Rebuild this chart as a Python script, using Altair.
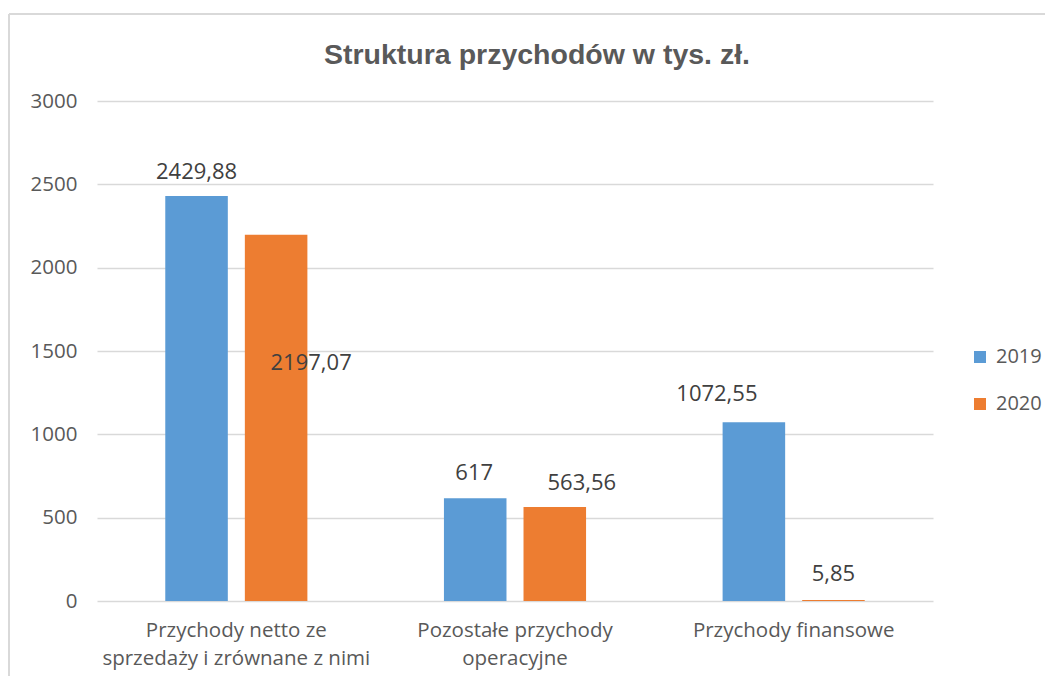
import altair as alt
import pandas as pd

categories = [
    "Przychody netto ze sprzedaży i zrównane z nimi",
    "Pozostałe przychody operacyjne",
    "Przychody finansowe",
]
years = ["2019", "2020"]
values_2019 = [2429.88, 617, 1072.55]
values_2020 = [2197.07, 563.56, 5.85]
title_text = "Struktura przychodów w tys. zł."

label_lines = [
    ["Przychody netto ze", "sprzedaży i zrównane z nimi"],
    ["Pozostałe przychody", "operacyjne"],
    ["Przychody finansowe"],
]

# data-label offsets (dx, dy) in pixels, as placed in the original
label_offsets = {
    (0, "2019"): (0, -24), (0, "2020"): (35, 128),
    (1, "2019"): (-1, -25), (1, "2020"): (27, -24),
    (2, "2019"): (-37, -28), (2, "2020"): (0, -26),
}

rows = []
for i, c in enumerate(categories):
    for y, vals in zip(years, [values_2019, values_2020]):
        v = vals[i]
        rows.append({"cat": c, "idx": i, "year": y, "value": v,
                     "label": "{:g}".format(v).replace(".", ",")})
df = pd.DataFrame(rows)

def js_list(lines):
    return "[" + ",".join("'" + s + "'" for s in lines) + "]"

expr = "datum.label"
for c, lines in reversed(list(zip(categories, label_lines))):
    expr = f"datum.label == '{c}' ? {js_list(lines)} : ({expr})"

FONT = "Open Sans"
AX = "#595959"

x_enc = alt.X("cat:N", sort=categories, title=None,
              scale=alt.Scale(paddingInner=0.49, paddingOuter=0.245),
              axis=alt.Axis(labelExpr=expr, labelAngle=0, ticks=False, domain=False,
                            labelFont=FONT, labelFontSize=20.5, labelColor=AX,
                            labelPadding=19, labelLineHeight=28, labelLimit=400))
xo_enc = alt.XOffset("year:N", sort=years,
                     scale=alt.Scale(paddingInner=0.214, paddingOuter=0))
y_enc = alt.Y("value:Q", title=None,
              scale=alt.Scale(domain=[0, 3000], nice=False),
              axis=alt.Axis(values=[0, 500, 1000, 1500, 2000, 2500, 3000],
                            format="d", ticks=False, domain=False, labelFont=FONT,
                            labelFontSize=20.5, labelColor=AX, labelPadding=20,
                            gridColor="#d9d9d9", gridWidth=1.5))

bars = alt.Chart(df).mark_bar().encode(
    x=x_enc, xOffset=xo_enc, y=y_enc,
    color=alt.Color("year:N", sort=years,
                    scale=alt.Scale(domain=years, range=["#5B9BD5", "#ED7D31"]),
                    legend=alt.Legend(orient="none", legendX=873, legendY=246,
                                      title=None, symbolType="square",
                                      symbolSize=144, symbolStrokeWidth=0,
                                      labelFont=FONT, labelFontSize=20,
                                      labelColor=AX, rowPadding=27,
                                      labelOffset=6)),
)

texts = []
for (i, yr), (dx, dy) in label_offsets.items():
    t = alt.Chart(df).transform_filter(
        (alt.datum.idx == i) & (alt.datum.year == yr)
    ).mark_text(font=FONT, fontSize=22, color="#404040", baseline="middle",
                dx=dx, dy=dy).encode(
        x=alt.X("cat:N", sort=categories),
        xOffset=alt.XOffset("year:N", sort=years),
        y=alt.Y("value:Q"),
        text="label:N",
    )
    texts.append(t)

frame_df = pd.DataFrame({"k": [0]})
frame_left = alt.Chart(frame_df).mark_rule(color="#d9d9d9", strokeWidth=2).encode(
    x=alt.value(-88), y=alt.value(-87), y2=alt.value(600))
frame_top = alt.Chart(frame_df).mark_rule(color="#d9d9d9", strokeWidth=2).encode(
    x=alt.value(-88), x2=alt.value(960), y=alt.value(-87))

title_mark = alt.Chart(pd.DataFrame({"t": [title_text]})).mark_text(
    font="Liberation Sans", fontSize=28.5, fontWeight="bold", color=AX,
    align="center", baseline="middle").encode(
    x=alt.value(440), y=alt.value(-46), text="t:N")

chart = alt.layer(frame_left, frame_top, title_mark, bars, *texts).properties(
    width=836, height=500,
    autosize=alt.AutoSizeParams(type="none"),
    padding={"left": 89, "top": 93, "right": 112, "bottom": 75},
).configure_view(stroke=None)

chart.save("out.html", embed_options={"renderer": "svg", "actions": False})
